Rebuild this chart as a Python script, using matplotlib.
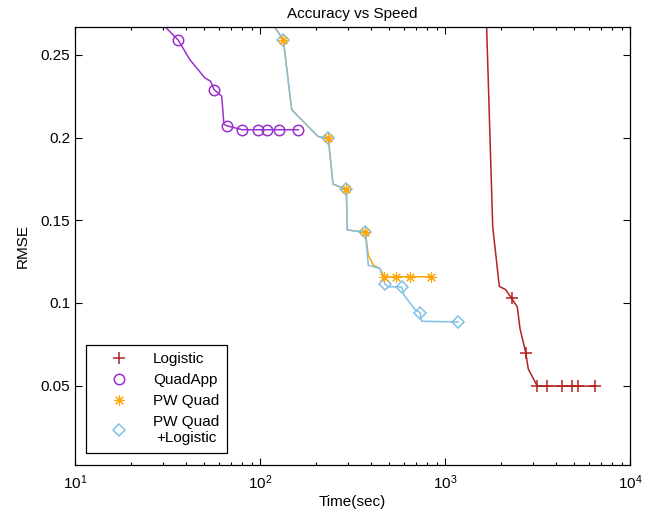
import matplotlib
matplotlib.use("Agg")
import matplotlib.pyplot as plt
from matplotlib.lines import Line2D

plt.rcParams['font.family'] = ['Liberation Sans', 'DejaVu Sans']
plt.rcParams['mathtext.fontset'] = 'custom'
plt.rcParams['mathtext.rm'] = 'Liberation Sans'
plt.rcParams['mathtext.it'] = 'Liberation Sans:italic'
plt.rcParams['font.size'] = 11

# Logistic: full curve and marked points
log_x = [1660, 1811, 1966, 2129, 2294, 2459, 2543, 2731, 2820, 3155, 3573, 4290, 4876, 5216, 6493]
log_y = [0.285, 0.146, 0.110, 0.108, 0.1027, 0.0976, 0.0845, 0.070, 0.060,
         0.0497, 0.0497, 0.0497, 0.0497, 0.0497, 0.0497]
log_mx = [2294, 2731, 3155, 3573, 4290, 4876, 5216, 6493]
log_my = [0.1027, 0.070, 0.0497, 0.0497, 0.0497, 0.0497, 0.0497, 0.0497]

# QuadApp
qa_x = [28, 30.7, 36.2, 41.8, 50.4, 54.1, 56.4, 62.1, 63.8, 66.1, 80.2, 97.5, 109.5, 127.2, 161]
qa_y = [0.272, 0.267, 0.2588, 0.247, 0.236, 0.234, 0.229, 0.225, 0.208, 0.2071,
        0.2047, 0.2047, 0.2047, 0.2047, 0.2047]
qa_mx = [36.2, 56.4, 66.1, 80.2, 97.5, 109.5, 127.2, 161]
qa_my = [0.2588, 0.229, 0.2071, 0.2047, 0.2047, 0.2047, 0.2047, 0.2047]

# PW Quad
pw_x = [112, 119.5, 133.6, 148.4, 205.9, 234, 248, 292.8, 296.5, 370.9, 385, 409.7,
        445.4, 469.8, 543.5, 647, 837]
pw_y = [0.272, 0.267, 0.2592, 0.2168, 0.2006, 0.1996, 0.1718, 0.1687, 0.1441, 0.1427,
        0.1289, 0.1228, 0.1208, 0.1158, 0.1158, 0.1158, 0.1158]
pw_mx = [133.6, 234, 292.8, 370.9, 469.8, 543.5, 647, 837]
pw_my = [0.2592, 0.1996, 0.1687, 0.1427, 0.1158, 0.1158, 0.1158, 0.1158]

# PW Quad + Logistic
pl_x = [112, 119.5, 133.6, 148.4, 205.9, 234, 248, 292.8, 296.5, 370.9, 385, 445.4,
        474, 493.7, 583.2, 600, 688, 732.6, 748, 1180]
pl_y = [0.272, 0.267, 0.2592, 0.2168, 0.2006, 0.1996, 0.1718, 0.1687, 0.1441, 0.1427,
        0.1228, 0.1208, 0.1113, 0.1097, 0.1097, 0.1047, 0.096, 0.0942, 0.0889, 0.0885]
pl_mx = [133.6, 234, 292.8, 370.9, 474, 583.2, 732.6, 1180]
pl_my = [0.2592, 0.1996, 0.1687, 0.1427, 0.1113, 0.1097, 0.0942, 0.0885]

ytick_vals = [0.05, 0.1, 0.15, 0.2, 0.25]
ytick_labels = ['0.05', '0.1', '0.15', '0.2', '0.25']
labels = ['Logistic', 'QuadApp', 'PW Quad', 'PW Quad\n+Logistic']

c_log = '#B22222'
c_qa = '#9B30D0'
c_pw = '#FFA500'
c_pl = '#82C0EA'
star = (8, 2, 0)

fig = plt.figure(figsize=(6.62, 5.16), dpi=100)
ax = fig.add_axes([75 / 662, 1 - 465 / 516, 555 / 662, (465 - 26.7) / 516])

lw = 1.1
ax.plot(log_x, log_y, color=c_log, lw=lw)
ax.plot(log_mx, log_my, ls='none', marker='+', ms=8, mew=1.1, color=c_log)

ax.plot(qa_x, qa_y, color=c_qa, lw=lw)
ax.plot(qa_mx, qa_my, ls='none', marker='o', ms=7.5, mfc='none', mew=1.1, color=c_qa)

ax.plot(pw_x, pw_y, color=c_pw, lw=lw)
ax.plot(pl_x, pl_y, color=c_pl, lw=lw)
ax.plot(pl_mx, pl_my, ls='none', marker='D', ms=6.5, mfc='none', mew=1.1, color=c_pl)
ax.plot(pw_mx, pw_my, ls='none', marker=star, ms=7.5, mew=0.8, color=c_pw)

ax.set_xscale('log')
ax.set_xlim(10, 1e4)
ax.set_ylim(0.002, 0.267)
ax.set_yticks(ytick_vals)
ax.set_yticklabels(ytick_labels)

ax.tick_params(which='both', direction='in', top=True, right=True, labelsize=11, width=0.8)
ax.tick_params(which='major', length=5)
ax.tick_params(which='minor', length=2.5)
ax.tick_params(axis='x', pad=6)
for s in ax.spines.values():
    s.set_linewidth(0.9)

ax.set_xlabel('Time(sec)', fontsize=11, labelpad=2)
ax.set_ylabel('RMSE', fontsize=11, labelpad=8)
ax.set_title('Accuracy vs Speed', fontsize=11, pad=6)

handles = [
    Line2D([], [], ls='none', marker='+', ms=8, mew=1.1, color=c_log),
    Line2D([], [], ls='none', marker='o', ms=7.5, mfc='none', mew=1.1, color=c_qa),
    Line2D([], [], ls='none', marker=star, ms=7.5, mew=0.8, color=c_pw),
    Line2D([], [], ls='none', marker='D', ms=6.5, mfc='none', mew=1.1, color=c_pl),
]
leg = ax.legend(handles, labels, loc='lower left', bbox_to_anchor=(0.0198, 0.028),
                borderaxespad=0, fancybox=False, edgecolor='black', framealpha=1,
                handlelength=3.3, handletextpad=0.6, borderpad=0.5, labelspacing=0.45,
                fontsize=11)
leg.get_frame().set_linewidth(0.9)
for t in leg.get_texts():
    t.set_multialignment('center')

fig.savefig('out.png', dpi=100)
